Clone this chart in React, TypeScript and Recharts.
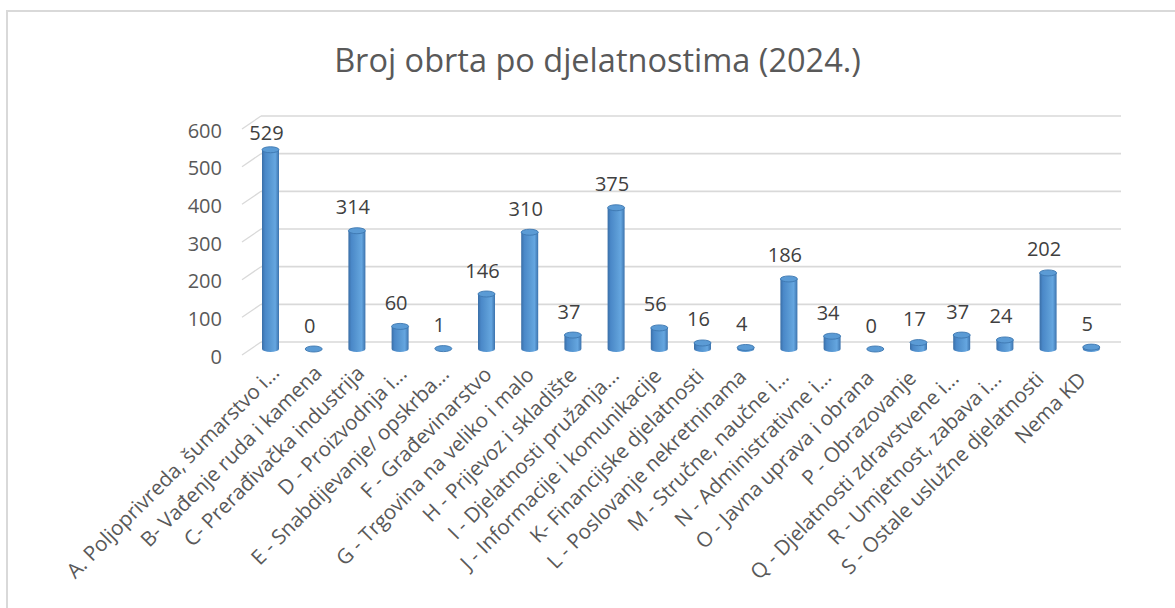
import React from "react";
import { BarChart, Bar, XAxis, YAxis, CartesianGrid, LabelList } from "recharts";

const categories: string[] = [
  "A. Poljoprivreda, šumarstvo i...",
  "B- Vađenje ruda i kamena",
  "C- Prerađivačka industrija",
  "D - Proizvodnja i...",
  "E - Snabdijevanje/ opskrba...",
  "F - Građevinarstvo",
  "G - Trgovina na veliko i malo",
  "H - Prijevoz i skladište",
  "I - Djelatnosti pružanja...",
  "J - Informacije i komunikacije",
  "K- Financijske djelatnosti",
  "L - Poslovanje nekretninama",
  "M - Stručne, naučne i...",
  "N - Administrativne i...",
  "O - Javna uprava i obrana",
  "P - Obrazovanje",
  "Q - Djelatnosti zdravstvene i...",
  "R - Umjetnost, zabava i...",
  "S - Ostale uslužne djelatnosti",
  "Nema KD",
];

const values: number[] = [529, 0, 314, 60, 1, 146, 310, 37, 375, 56, 16, 4, 186, 34, 0, 17, 37, 24, 202, 5];

const yTicks: number[] = [0, 100, 200, 300, 400, 500, 600];

const title = "Broj obrta po djelatnostima (2024.)";

const data = categories.map((name, i) => ({ name, value: values[i] }));

const W = 1175;
const H = 608;
const PLOT_TOP = 123;
const PLOT_BOTTOM = 349;
const FONT = "'Open Sans', 'DejaVu Sans', sans-serif";

const Cylinder = (props: any) => {
  const { x, y, width, height } = props;
  if (x == null || y == null) return null;
  const rx = width / 2;
  const ry = 3;
  const cx = x + rx;
  const bottom = y + height;
  return (
    <g>
      {height > 0.5 && (
        <path
          d={`M${x},${y} L${x},${bottom} A${rx},${ry} 0 0 0 ${x + width},${bottom} L${x + width},${y} Z`}
          fill="url(#cylGrad)"
        />
      )}
      <ellipse cx={cx} cy={y} rx={rx} ry={ry} fill="#5b9bd5" stroke="#3d77b0" strokeWidth={0.9} />
    </g>
  );
};

const ValueLabel = (props: any) => {
  const { x, y, width, value } = props;
  const cy = Math.max(y - 24, PLOT_TOP + 9);
  return (
    <text
      x={x + width / 2 - 4}
      y={cy}
      textAnchor="middle"
      dominantBaseline="central"
      fontSize={20}
      fontFamily={FONT}
      fill="#404040"
    >
      {value}
    </text>
  );
};

const CategoryTick = (props: any) => {
  const { x, payload, index } = props;
  const n = categories.length - 1;
  const t = (index ?? 0) / n;
  const ax = x + 10 - 14 * t;
  const ay = PLOT_BOTTOM + 25 + 7 * t;
  return (
    <text
      x={ax}
      y={ay}
      transform={`rotate(-45, ${ax}, ${ay})`}
      textAnchor="end"
      fontSize={20.6}
      fontFamily={FONT}
      fill="#595959"
    >
      {payload.value}
    </text>
  );
};

const ValueTick = (props: any) => {
  const { y, payload } = props;
  return (
    <text x={222} y={y + 7} textAnchor="end" dominantBaseline="central" fontSize={20} fontFamily={FONT} fill="#595959">
      {payload.value}
    </text>
  );
};

const GridLine = (props: any) => {
  const { x1, x2, y1 } = props;
  return (
    <g key={props.key}>
      <line x1={x1 - 7} y1={y1 + 6} x2={x1 + 12} y2={y1 - 7} stroke="#d9d9d9" strokeWidth={1.3} />
      <line x1={x1 + 12} y1={y1 - 7} x2={x2 + 8} y2={y1 - 7} stroke="#d9d9d9" strokeWidth={1.6} />
    </g>
  );
};

export default function App() {
  return (
    <div style={{ position: "absolute", left: 0, top: 0, width: W, height: H, overflow: "hidden", background: "#fff" }}>
      <div
        style={{
          position: "absolute",
          left: 6,
          top: 10,
          width: 1300,
          height: 800,
          border: "2px solid #d9d9d9",
          boxSizing: "border-box",
        }}
      />
      <div
        style={{
          position: "absolute",
          left: 0,
          width: W,
          top: 37,
          textAlign: "center",
          fontFamily: FONT,
          fontSize: 32.5,
          color: "#595959",
          paddingLeft: 20,
          boxSizing: "border-box",
          whiteSpace: "nowrap",
        }}
      >
        {title}
      </div>
      <div style={{ position: "absolute", left: 0, top: 0 }}>
        <BarChart
          width={W}
          height={H}
          data={data}
          margin={{ top: PLOT_TOP, right: 62, bottom: H - PLOT_BOTTOM - 30, left: 0 }}
          barSize={17}
        >
          <defs>
            <linearGradient id="cylGrad" x1="0" y1="0" x2="1" y2="0">
              <stop offset="0" stopColor="#3a6ea6" />
              <stop offset="0.18" stopColor="#4a88c8" />
              <stop offset="0.55" stopColor="#5b9bd5" />
              <stop offset="0.78" stopColor="#65a6e0" />
              <stop offset="1" stopColor="#3c73ad" />
            </linearGradient>
          </defs>
          <CartesianGrid vertical={false} horizontal={GridLine as any} />
          <XAxis
            dataKey="name"
            interval={0}
            height={30}
            axisLine={false}
            tickLine={false}
            tick={<CategoryTick />}
          />
          <YAxis
            width={249}
            domain={[0, 600]}
            ticks={yTicks}
            axisLine={false}
            tickLine={false}
            tick={<ValueTick />}
          />
          <Bar dataKey="value" shape={<Cylinder />} isAnimationActive={false}>
            <LabelList dataKey="value" content={<ValueLabel />} />
          </Bar>
        </BarChart>
      </div>
    </div>
  );
}
